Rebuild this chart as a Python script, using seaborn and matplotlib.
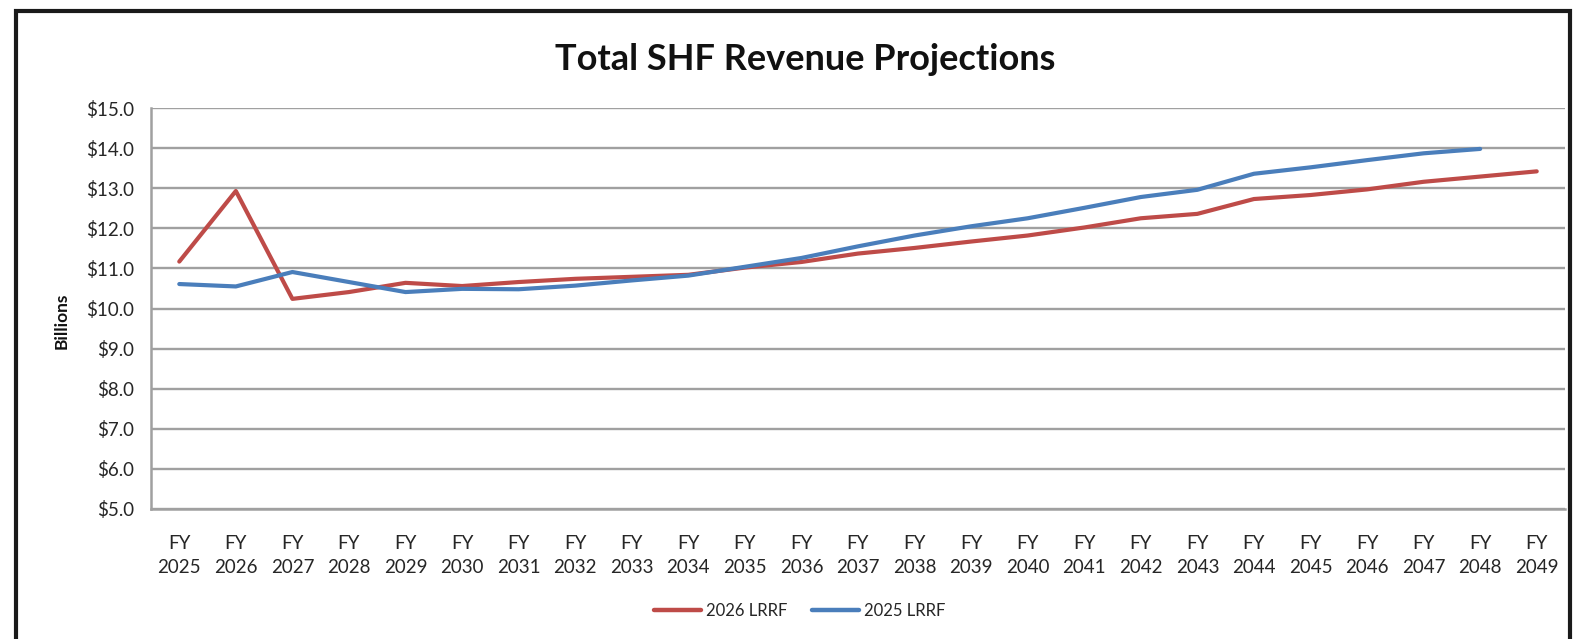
import numpy as np
import pandas as pd
import matplotlib
matplotlib.use("Agg")
import matplotlib.pyplot as plt
from matplotlib.patches import Rectangle
from matplotlib.lines import Line2D
from matplotlib.ticker import FixedLocator
import seaborn as sns

years = [f"FY\n{y}" for y in range(2025, 2050)]
lrrf_2026 = [11.17, 12.93, 10.24, 10.41, 10.64, 10.56, 10.66, 10.74, 10.79, 10.84,
             11.02, 11.16, 11.37, 11.51, 11.67, 11.82, 12.02, 12.25, 12.36, 12.73,
             12.83, 12.97, 13.16, 13.29, 13.42]
lrrf_2025 = [10.61, 10.55, 10.91, 10.66, 10.41, 10.49, 10.48, 10.57, 10.70, 10.82,
             11.04, 11.26, 11.55, 11.82, 12.05, 12.25, 12.51, 12.78, 12.96, 13.36,
             13.52, 13.70, 13.87, 13.98, np.nan]
series_names = ["2026 LRRF", "2025 LRRF"]
y_ticks = [5, 6, 7, 8, 9, 10, 11, 12, 13, 14, 15]
title = "Total SHF Revenue Projections"
ylabel = "Billions"

colors = {"2026 LRRF": "#BE4B48", "2025 LRRF": "#4A7EBB"}

df = pd.concat([
    pd.DataFrame({"Year": years, "Value": lrrf_2026, "Series": series_names[0]}),
    pd.DataFrame({"Year": years, "Value": lrrf_2025, "Series": series_names[1]}),
]).dropna()

sns.set_theme(style="white")
plt.rcParams["font.family"] = ["Lato", "DejaVu Sans"]

W, H = 1579, 639
fig = plt.figure(figsize=(W / 100, H / 100), dpi=100)
ax = fig.add_axes([151 / W, 1 - 509 / H, (1565 - 151) / W, (509 - 108) / H])

ax.set_axisbelow(True)
for t in y_ticks:
    ax.axhline(t, color="#A0A0A0", lw=1.7, zorder=0)

sns.lineplot(data=df, x="Year", y="Value", hue="Series", palette=colors,
             sort=False, estimator=None, lw=3.0, ax=ax, legend=False,
             solid_capstyle="round")

ax.set_xlim(-0.5, len(years) - 0.5)
ax.set_ylim(5, 15)
ax.set_yticks(y_ticks)
ax.set_yticklabels([f"${v:.1f}" for v in y_ticks])
ax.set_xlabel("")
ax.set_ylabel("")

ax.xaxis.set_minor_locator(FixedLocator(np.arange(-0.5, len(years), 1.0)))
ax.tick_params(axis="x", which="major", length=0, pad=19, labelsize=13.5, colors="#262626")
ax.tick_params(axis="x", which="minor", length=5, width=1.2, color="#A0A0A0", direction="out")
ax.tick_params(axis="y", which="major", length=5, width=1.2, color="#A0A0A0",
               direction="out", labelsize=13.5, labelcolor="#262626", pad=7)
for lab in ax.get_xticklabels():
    lab.set_linespacing(1.45)

for s in ["top", "right"]:
    ax.spines[s].set_visible(False)
for s in ["left", "bottom"]:
    ax.spines[s].set_color("#A0A0A0")
    ax.spines[s].set_linewidth(1.8)

fig.text(62 / W, 1 - 321 / H, ylabel, rotation=90, ha="center", va="center",
         fontsize=12.5, fontweight="bold", color="#111111")

fig.text(805 / W, 1 - 60 / H, title, ha="center", va="center",
         fontsize=26, fontweight="bold", color="#111111")

handles = [Line2D([], [], color=colors[n], lw=3.2) for n in series_names]
fig.legend(handles, series_names, loc="center", bbox_to_anchor=(800 / W, 1 - 611 / H),
           ncol=2, frameon=False, fontsize=12, handlelength=2.8, handletextpad=0.3,
           columnspacing=1.5, labelcolor="#262626")

fig.patches.append(Rectangle((16 / W, -0.1), (1570 - 16) / W, 1.1 - 11 / H,
                             transform=fig.transFigure, fill=False,
                             edgecolor="#1a1a1a", lw=3))

fig.savefig("out.png", dpi=100, facecolor="white")
